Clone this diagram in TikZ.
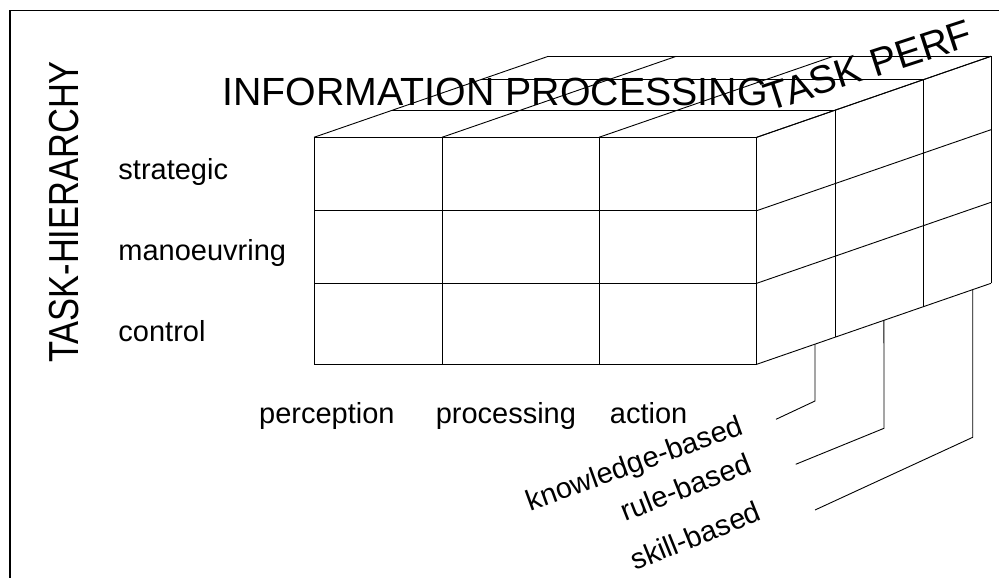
\documentclass[tikz,border=0pt]{standalone}
\usepackage{graphicx}
\usepackage{fontspec}
\setmainfont{Liberation Sans}
\usetikzlibrary{calc}

\begin{document}
\begin{tikzpicture}[x=1pt, y=-1pt, line width=0.9pt,
  rowlabel/.style={font=\fontsize{29}{30}\selectfont, inner sep=0pt, anchor=base west},
  title/.style={font=\fontsize{39.3}{41}\selectfont, inner sep=0pt, anchor=base west},
  frame/.style={line width=1.6pt}]
\useasboundingbox (0,0) rectangle (999,578);

% frame (only top and left edge are inside the picture)
\draw[frame] (10,578) -- (10,10.7) -- (999,10.7);

% corners of the block
\coordinate (ftl) at (314,137.3);
\coordinate (ftr) at (756.7,137.3);
\coordinate (fbr) at (756.7,364.3);
\coordinate (btr) at ($(ftr)+(234.3,-81)$);
\coordinate (bbr) at ($(fbr)+(234.3,-81)$);

% front face
\foreach \x in {314,442,599,756.7}
  \draw (\x,137.3) -- (\x,364.3);
\foreach \y in {137.3,210.7,283.3,364.3}
  \draw (314,\y) -- (756.7,\y);

% top face
\foreach \x in {314,442,599,756.7}
  \draw (\x,137.3) -- ++(234.3,-81);
\foreach \t in {0.334,0.711,1}
  \draw ($(ftl)!\t!(ftl |- btr) + (\t*234.3,0)$) -- ++(442.7,0);

% side face
\foreach \y in {137.3,210.7,283.3,364.3}
  \draw (756.7,\y) -- ++(234.3,-81);
\foreach \t in {0.334,0.711,1}
  \draw ($(ftr)!\t!(btr)$) -- ($(fbr)!\t!(bbr)$);

% labels
\node[rotate=90, inner sep=0pt, anchor=base west, font=\fontsize{42}{44}\selectfont]
  (taskhier) at (78.3,363.3) {\scalebox{0.82}[1]{TASK-HIERARCHY}};
\node[title] (infoproc) at (222,105.7) {INFORMATION PROCESSING};
\node[title, rotate=18] (taskperf) at (769.5,111.7) {TASK PERF};

\node[rowlabel] (strategic) at (118,179.3) {strategic};
\node[rowlabel] (manoeuvring) at (118,260) {manoeuvring};
\node[rowlabel] (control) at (118,341.7) {control};

\node[rowlabel] (perception) at (258.7,423.3) {perception};
\node[rowlabel] (processing) at (435.3,423.3) {processing};
\node[rowlabel] (action) at (609.5,423.3) {action};

\node[rowlabel, rotate=20] (knowledge) at (530.5,511.5) {knowledge-based};
\node[rowlabel, rotate=21.5] (rule) at (625.5,521.7) {rule-based};
\node[rowlabel, rotate=22] (skill) at (635.5,571) {skill-based};

% leaders from the block to the labels
\coordinate (kbtop) at ($(fbr)!0.249!(bbr)$);
\coordinate (kbbend) at (815,401);
\coordinate (kbend) at (776,419.3);
\coordinate (rbtop) at ($(fbr)!0.543!(bbr)$);
\coordinate (rbbend) at (884,428.3);
\coordinate (rbend) at (795.7,464.3);
\coordinate (sbtop) at ($(fbr)!0.922!(bbr)$);
\coordinate (sbbend) at (972.7,437.3);
\coordinate (sbend) at (815,510);

\draw (kbtop) -- (kbbend) -- (kbend);
\draw (rbtop) -- (rbbend) -- (rbend);
\draw (sbtop) -- (sbbend) -- (sbend);
\end{tikzpicture}
\end{document}
